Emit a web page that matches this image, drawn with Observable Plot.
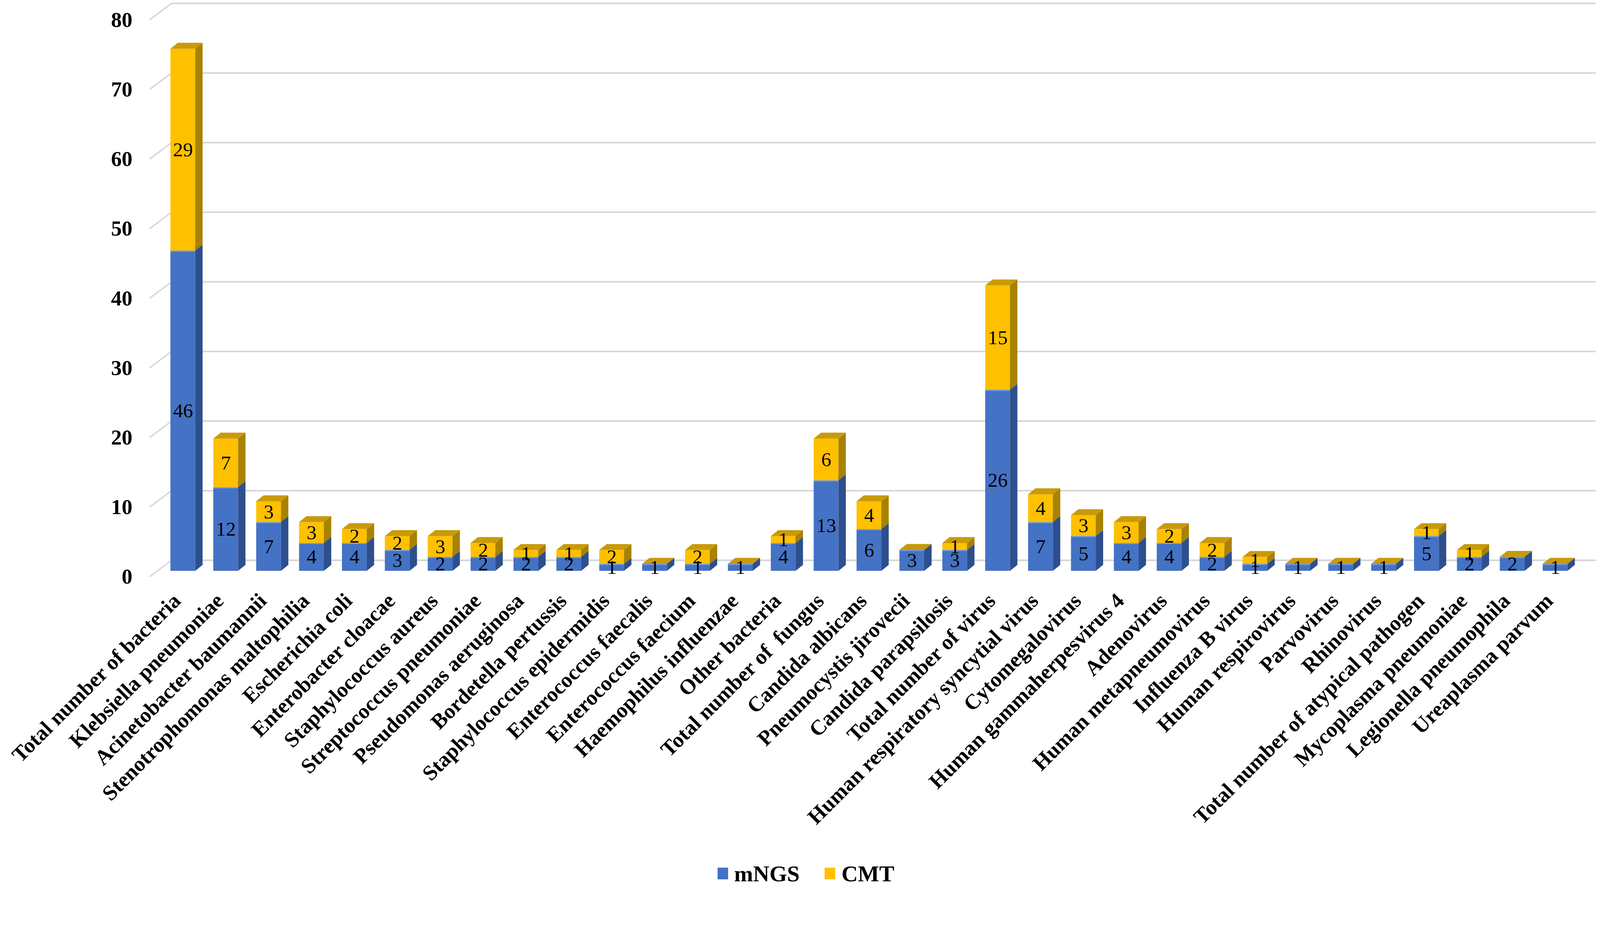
<!DOCTYPE html>
<html><head><meta charset="utf-8">
<script src="https://cdn.jsdelivr.net/npm/d3@7"></script>
<script src="https://cdn.jsdelivr.net/npm/@observablehq/plot@0.6"></script>
<style>
html,body{margin:0;padding:0;background:#fff;overflow:hidden}
#chart svg{display:block}
#legend{height:70px;display:flex;justify-content:center;align-items:center;font-family:"Liberation Serif","Times New Roman",serif;font-weight:bold;font-size:58px;color:#000;padding-left:30px}
.item{display:flex;align-items:center;margin:0 32px}
.sw{display:inline-block;width:27px;height:30px;margin-right:16px}
</style></head>
<body><div id="chart"></div><div id="legend"></div>
<script>
const categories = [
  "Total number of bacteria","Klebsiella pneumoniae","Acinetobacter baumannii","Stenotrophomonas maltophilia",
  "Escherichia coli","Enterobacter cloacae","Staphylococcus aureus","Streptococcus pneumoniae",
  "Pseudomonas aeruginosa","Bordetella pertussis","Staphylococcus epidermidis","Enterococcus faecalis",
  "Enterococcus faecium","Haemophilus influenzae","Other bacteria","Total number of  fungus",
  "Candida albicans","Pneumocystis jirovecii","Candida parapsilosis","Total number of virus",
  "Human respiratory syncytial virus","Cytomegalovirus","Human gammaherpesvirus 4","Adenovirus",
  "Human metapneumovirus","Influenza B virus","Human respirovirus","Parvovirus","Rhinovirus",
  "Total number of atypical pathogen","Mycoplasma pneumoniae","Legionella pneumophila","Ureaplasma parvum"
];
const mNGS = [46,12,7,4,4,3,2,2,2,2,1,1,1,1,4,13,6,3,3,26,7,5,4,4,2,1,1,1,1,5,2,2,1];
const CMT  = [29,7,3,3,2,2,3,2,1,1,2,0,2,0,1,6,4,0,1,15,4,3,3,2,2,1,0,0,0,1,1,0,0];
const yTicks = [0,10,20,30,40,50,60,70,80];
const seriesNames = ["mNGS","CMT"];

const rows = [];
categories.forEach((c, i) => {
  rows.push({category: c, series: "mNGS", value: mNGS[i]});
  rows.push({category: c, series: "CMT", value: CMT[i]});
});

const W = 4328, H = 2326;
const ML = 391.7, MR = 19.2, MT = 37.6, MB = 782;
const colors = {
  mNGS: {front: "#4472C4", side: "#2E4F8E", top: "#3A63AE"},
  CMT:  {front: "#FFC000", side: "#A88200", top: "#C99A0A"}
};
const DX = 20, DY = -16;            // bar depth
const FONT = "'Liberation Serif','Times New Roman',serif";

function bars3d(index, scales, values) {
  const g = d3.create("svg:g");
  const bw = scales.x.bandwidth();
  for (const i of index) {
    const x0 = values.x[i], x1 = x0 + bw;
    const yb = Math.max(values.y1[i], values.y2[i]);
    const yt = Math.min(values.y1[i], values.y2[i]);
    const c = colors[rows[i].series];
    g.append("rect").attr("x", x0).attr("y", yt).attr("width", bw).attr("height", yb - yt).attr("fill", c.front);
    g.append("path").attr("d", `M${x1},${yt}L${x1+DX},${yt+DY}L${x1+DX},${yb+DY}L${x1},${yb}Z`).attr("fill", c.side);
    g.append("path").attr("d", `M${x0},${yt}L${x0+DX},${yt+DY}L${x1+DX},${yt+DY}L${x1},${yt}Z`).attr("fill", c.top);
    if (rows[i].series === "mNGS") {
      g.append("line").attr("x1", x0).attr("x2", x1).attr("y1", yt + 1.5).attr("y2", yt + 1.5)
        .attr("stroke", "#6E9BEA").attr("stroke-width", 3);
    }
  }
  return g.node();
}

function connectors(index, scales, values, dims) {
  const g = d3.create("svg:g");
  for (const i of index) {
    const y = values.y[i];
    g.append("line")
      .attr("x1", dims.marginLeft + 13).attr("y1", y + 16)
      .attr("x2", dims.marginLeft + 73).attr("y2", y - 29)
      .attr("stroke", "#D4D4D4").attr("stroke-width", 3.5);
  }
  return g.node();
}

const chart = Plot.plot({
  width: W, height: H,
  marginLeft: ML, marginRight: MR, marginTop: MT, marginBottom: MB,
  style: {fontFamily: FONT, background: "white", overflow: "visible"},
  x: {domain: categories, paddingInner: 0.426, paddingOuter: 0.5, align: 0.5, axis: null},
  y: {domain: [0, 80], axis: null},
  marks: [
    Plot.ruleY(yTicks, {stroke: "#D4D4D4", strokeWidth: 4, dx: 39, dy: -29, insetLeft: 34.3, insetRight: 31.8}),
    Plot.ruleY(yTicks, {render: connectors}),
    Plot.barY(rows, Plot.stackY({x: "category", y: "value", z: "series", render: bars3d})),
    Plot.text(rows, Plot.stackY({
      x: "category", y: "value", z: "series",
      text: d => d.value, filter: d => d.value > 0,
      fontSize: 54, fill: "#000", lineAnchor: "middle"
    })),
    Plot.text(yTicks, {
      y: d => d, text: d => String(d), frameAnchor: "left", textAnchor: "end",
      dx: -34, dy: 16, fontSize: 58, fontWeight: "bold", fill: "#000", lineAnchor: "middle"
    }),
    Plot.text(categories, {
      x: d => d, text: d => d, frameAnchor: "bottom", rotate: -45, textAnchor: "end",
      lineAnchor: "middle", dx: -16, dy: 71, fontSize: 58, fontWeight: "bold", fill: "#000"
    })
  ]
});
document.getElementById("chart").appendChild(chart);

const legend = document.getElementById("legend");
seriesNames.forEach(s => {
  const it = document.createElement("div");
  it.className = "item";
  const sw = document.createElement("span");
  sw.className = "sw";
  sw.style.background = colors[s].front;
  it.appendChild(sw);
  it.appendChild(document.createTextNode(s));
  legend.appendChild(it);
});
</script>
</body></html>
